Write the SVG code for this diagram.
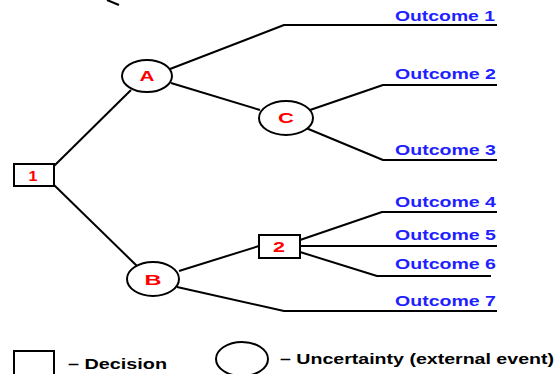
<svg xmlns="http://www.w3.org/2000/svg" width="557" height="374" viewBox="0 0 557 374">
<style>
.ln{stroke:#000;stroke-width:2;fill:none;stroke-linejoin:round}
.nd{fill:#fff;stroke:#000;stroke-width:2}
.lbl{font-family:"Liberation Sans",Arial,sans-serif;font-weight:bold;font-size:14px;fill:#ff0000;text-anchor:middle}
.out{font-family:"Liberation Sans",Arial,sans-serif;font-weight:bold;font-size:15px;fill:#1f1fff}
.leg{font-family:"Liberation Sans",Arial,sans-serif;font-weight:bold;font-size:15px;fill:#000}
</style>
<rect width="557" height="374" fill="#fff"/>
<g id="connectors">
<line class="ln" x1="107" y1="0" x2="119" y2="5"/>
<line class="ln" x1="54" y1="166" x2="131" y2="90"/>
<line class="ln" x1="54" y1="185" x2="137" y2="266"/>
<polyline class="ln" points="170,69 284,25 497,25"/>
<line class="ln" x1="171" y1="83" x2="260" y2="110"/>
<polyline class="ln" points="310,110 383,85 497,85"/>
<polyline class="ln" points="306,128 383,160 497,160"/>
<line class="ln" x1="179" y1="271" x2="259" y2="246"/>
<polyline class="ln" points="300,240 382,212 497,212"/>
<line class="ln" x1="300" y1="246" x2="497" y2="246"/>
<polyline class="ln" points="300,252 377,276 491,276"/>
<polyline class="ln" points="177,287 284,311 497,311"/>
</g>
<g id="node-1">
<rect class="nd" x="14" y="164" width="40" height="22"/>
<text class="lbl" x="33" y="181" textLength="9" lengthAdjust="spacingAndGlyphs">1</text>
</g>
<g id="node-A">
<ellipse class="nd" cx="147" cy="76" rx="25" ry="16"/>
<text class="lbl" x="147" y="81" textLength="15" lengthAdjust="spacingAndGlyphs">A</text>
</g>
<g id="node-C">
<ellipse class="nd" cx="286" cy="118" rx="27" ry="17"/>
<text class="lbl" x="286" y="123" textLength="16" lengthAdjust="spacingAndGlyphs">C</text>
</g>
<g id="node-B">
<ellipse class="nd" cx="153" cy="279" rx="26" ry="17"/>
<text class="lbl" x="153" y="285" textLength="17" lengthAdjust="spacingAndGlyphs">B</text>
</g>
<g id="node-2">
<rect class="nd" x="259" y="235" width="41" height="23"/>
<text class="lbl" x="279" y="252" textLength="12" lengthAdjust="spacingAndGlyphs">2</text>
</g>
<g id="outcomes">
<text class="out" x="395" y="21" textLength="100" lengthAdjust="spacingAndGlyphs">Outcome 1</text>
<text class="out" x="395" y="79" textLength="101" lengthAdjust="spacingAndGlyphs">Outcome 2</text>
<text class="out" x="395" y="155" textLength="101" lengthAdjust="spacingAndGlyphs">Outcome 3</text>
<text class="out" x="395" y="207" textLength="101" lengthAdjust="spacingAndGlyphs">Outcome 4</text>
<text class="out" x="395" y="240" textLength="101" lengthAdjust="spacingAndGlyphs">Outcome 5</text>
<text class="out" x="395" y="269" textLength="101" lengthAdjust="spacingAndGlyphs">Outcome 6</text>
<text class="out" x="395" y="306" textLength="101" lengthAdjust="spacingAndGlyphs">Outcome 7</text>
</g>
<g id="legend">
<rect class="nd" x="14" y="351" width="40" height="26"/>
<text class="leg" x="68" y="369" textLength="99" lengthAdjust="spacingAndGlyphs">– Decision</text>
<ellipse class="nd" cx="242" cy="359" rx="26" ry="17"/>
<text class="leg" x="280" y="364" textLength="274" lengthAdjust="spacingAndGlyphs">– Uncertainty (external event)</text>
</g>
</svg>
